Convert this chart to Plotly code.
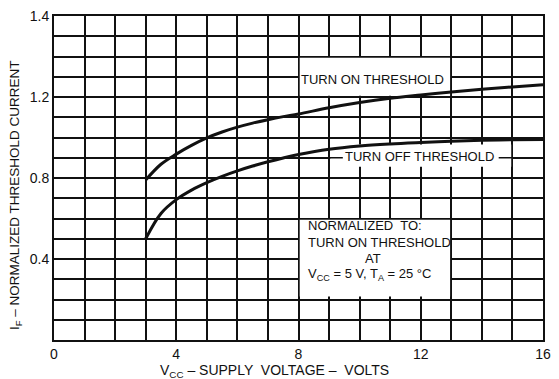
import plotly.graph_objects as go

# Supply voltage (V) and normalized threshold current for each curve
vcc = [3.0, 3.5, 4.0, 4.5, 5.0, 5.5, 6.0, 6.5, 7.0, 7.5, 8.0, 9.0, 10.0, 11.0, 12.0, 13.0, 14.0, 15.0, 16.0]
turn_on = [0.79, 0.868, 0.918, 0.961, 0.998, 1.027, 1.051, 1.071, 1.088, 1.103, 1.116,
           1.147, 1.173, 1.194, 1.21, 1.225, 1.238, 1.25, 1.26]
turn_off = [0.50, 0.625, 0.693, 0.740, 0.777, 0.808, 0.835, 0.859, 0.88, 0.899, 0.916,
            0.942, 0.958, 0.968, 0.975, 0.981, 0.986, 0.989, 0.99]

# Axis ticks
x_tickvals = [0, 4, 8, 12, 16]
x_ticktext = ["0", "4", "8", "12", "16"]
y_tickvals = [0.4, 0.8, 1.2, 1.6]
y_ticktext = ["0.4", "0.8", "1.2", "1.4"]

FONT = "Liberation Sans, Arial, sans-serif"
INK = "#111111"

fig = go.Figure()

for name, ys in (("TURN ON THRESHOLD", turn_on), ("TURN OFF THRESHOLD", turn_off)):
    fig.add_trace(go.Scatter(
        x=vcc, y=ys, mode="lines", name=name,
        line=dict(color=INK, width=3, shape="spline", smoothing=1.0),
        showlegend=False, hoverinfo="x+y",
    ))

# White label boxes that break the grid
boxes = [
    dict(x0=8.04, x1=12.96, y0=1.206, y1=1.394),
    dict(x0=9.04, x1=14.96, y0=0.855, y1=0.965),
    dict(x0=8.04, x1=12.96, y0=0.215, y1=0.594),
]
for b in boxes:
    fig.add_shape(type="rect", xref="x", yref="y", layer="between",
                  fillcolor="white", line=dict(width=0), **b)

# Short pieces of the 0.9 grid line on either side of the turn-off label
for x0, x1 in ((9.0, 9.45), (14.55, 15.0)):
    fig.add_shape(type="line", xref="x", yref="y", layer="between",
                  x0=x0, x1=x1, y0=0.9, y1=0.9, line=dict(color=INK, width=1.5))

annotations = [
    dict(x=10.42, y=1.285, text="TURN ON THRESHOLD", xanchor="center"),
    dict(x=11.95, y=0.905, text="TURN OFF THRESHOLD", xanchor="center"),
    dict(x=8.24, y=0.567, text="NORMALIZED  TO:", xanchor="left"),
    dict(x=8.24, y=0.482, text="TURN ON THRESHOLD", xanchor="left"),
    dict(x=10.45, y=0.403, text="AT", xanchor="center"),
    dict(x=8.24, y=0.325, text="V<sub>CC</sub> = 5 V, T<sub>A</sub> = 25 °C", xanchor="left"),
]
for a in annotations:
    fig.add_annotation(xref="x", yref="y", showarrow=False, yanchor="middle",
                       font=dict(family=FONT, size=13, color=INK), **a)

# Axis titles
fig.add_annotation(xref="paper", yref="paper", x=0.45, y=0, yshift=-31,
                   showarrow=False, xanchor="center", yanchor="middle",
                   text="V<sub>CC</sub> – SUPPLY  VOLTAGE –  VOLTS",
                   font=dict(family=FONT, size=14, color=INK))
fig.add_annotation(xref="paper", yref="paper", x=0, xshift=-39, y=0.5, yshift=-17,
                   showarrow=False, xanchor="center", yanchor="middle", textangle=-90,
                   text="I<sub>F</sub> – NORMALIZED THRESHOLD CURRENT",
                   font=dict(family=FONT, size=13.5, color=INK))

grid = dict(showgrid=True, gridcolor=INK, gridwidth=1.5)

fig.update_xaxes(
    range=[0, 16], tickmode="array", tickvals=x_tickvals, ticktext=x_ticktext,
    ticks="", showline=True, linecolor=INK, linewidth=2, mirror=True,
    zeroline=False, tickfont=dict(family=FONT, size=14, color=INK),
    ticklabelstandoff=0,
    minor=dict(tickmode="linear", tick0=0, dtick=1, ticks="", **grid),
    **grid,
)
fig.update_yaxes(
    range=[0, 1.6], tickmode="array", tickvals=y_tickvals, ticktext=y_ticktext,
    ticks="", showline=True, linecolor=INK, linewidth=2, mirror=True,
    zeroline=False, tickfont=dict(family=FONT, size=14, color=INK),
    minor=dict(tickmode="linear", tick0=0, dtick=0.1, ticks="", **grid),
    **grid,
)

fig.update_layout(
    width=559, height=379,
    margin=dict(l=54, r=8, t=15, b=39),
    paper_bgcolor="white", plot_bgcolor="white",
    showlegend=False,
)

fig.write_html("out.html")
